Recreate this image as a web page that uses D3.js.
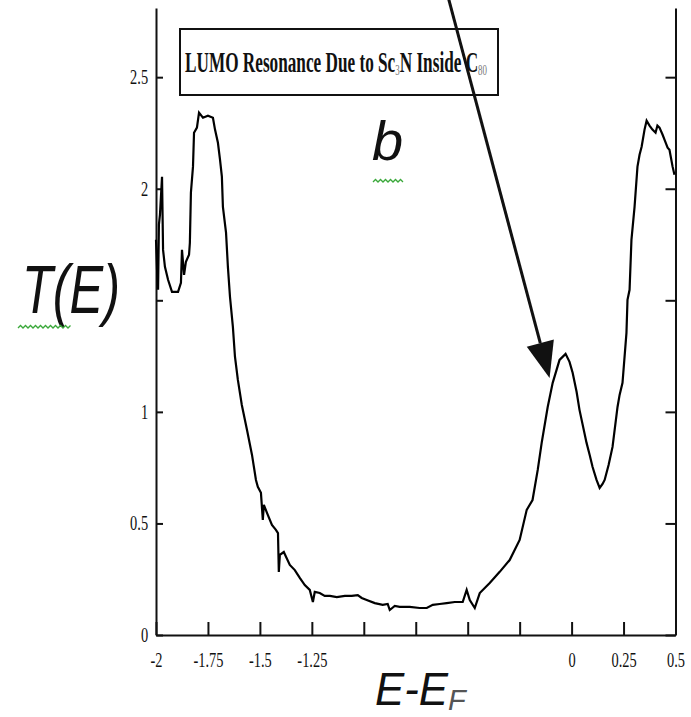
<!DOCTYPE html>
<html>
<head>
<meta charset="utf-8">
<script src="https://cdn.jsdelivr.net/npm/d3@7"></script>
<style>
  body { margin: 0; background: #fff; }
  svg { display: block; }
</style>
</head>
<body>
<svg id="chart" width="691" height="717"></svg>
<script>
// energy (E - E_F) and transmission T(E)
const energy = [
  -2.000, -1.995, -1.990, -1.986, -1.981, -1.971, -1.966, -1.957, -1.942, -1.923,
  -1.894, -1.880, -1.875, -1.865, -1.856, -1.841, -1.837, -1.832, -1.822, -1.817,
  -1.803, -1.793, -1.774, -1.750, -1.726, -1.716, -1.702, -1.692, -1.683, -1.678,
  -1.663, -1.654, -1.644, -1.630, -1.620, -1.606, -1.587, -1.562, -1.538, -1.519,
  -1.510, -1.495, -1.486, -1.481, -1.462, -1.442, -1.423, -1.413, -1.409, -1.404,
  -1.385, -1.356, -1.332, -1.308, -1.284, -1.260, -1.245, -1.236, -1.212, -1.188,
  -1.163, -1.130, -1.091, -1.058, -1.029, -1.010, -0.986, -0.947, -0.909, -0.885,
  -0.875, -0.851, -0.827, -0.779, -0.731, -0.697, -0.668, -0.635, -0.601, -0.562,
  -0.524, -0.505, -0.490, -0.466, -0.442, -0.394, -0.346, -0.298, -0.250, -0.216,
  -0.188, -0.163, -0.144, -0.115, -0.091, -0.058, -0.029, -0.010, 0.005, 0.024,
  0.038, 0.072, 0.087, 0.101, 0.120, 0.135, 0.149, 0.159, 0.178, 0.197,
  0.221, 0.231, 0.245, 0.264, 0.269, 0.279, 0.288, 0.303, 0.317, 0.327,
  0.337, 0.351, 0.361, 0.375, 0.389, 0.404, 0.413, 0.423, 0.438, 0.447,
  0.462, 0.471, 0.486, 0.495
];
const transmission = [
  1.771, 1.637, 1.547, 1.839, 1.883, 2.054, 1.726, 1.650, 1.592, 1.538,
  1.538, 1.578, 1.726, 1.614, 1.673, 1.704, 1.758, 1.982, 2.099, 2.251,
  2.274, 2.341, 2.318, 2.327, 2.318, 2.265, 2.206, 2.130, 2.054, 1.919,
  1.803, 1.650, 1.516, 1.381, 1.247, 1.143, 1.031, 0.919, 0.807, 0.695,
  0.664, 0.637, 0.516, 0.583, 0.538, 0.493, 0.471, 0.457, 0.283, 0.359,
  0.372, 0.314, 0.291, 0.256, 0.224, 0.202, 0.148, 0.193, 0.188, 0.175,
  0.175, 0.170, 0.175, 0.175, 0.179, 0.166, 0.157, 0.143, 0.135, 0.139,
  0.112, 0.130, 0.126, 0.126, 0.121, 0.121, 0.135, 0.139, 0.143, 0.148,
  0.148, 0.202, 0.157, 0.121, 0.188, 0.233, 0.283, 0.336, 0.426, 0.561,
  0.605, 0.740, 0.861, 1.022, 1.130, 1.233, 1.260, 1.224, 1.175, 1.090,
  1.009, 0.861, 0.807, 0.753, 0.695, 0.659, 0.677, 0.695, 0.762, 0.843,
  1.022, 1.076, 1.130, 1.354, 1.502, 1.547, 1.771, 1.919, 2.099, 2.152,
  2.188, 2.265, 2.305, 2.283, 2.265, 2.251, 2.283, 2.274, 2.242, 2.220,
  2.184, 2.175, 2.099, 2.063
];

const xTicks = [-2, -1.75, -1.5, -1.25, -1, -0.75, -0.5, -0.25, 0, 0.25, 0.5];
const xTickLabels = ["-2", "-1.75", "-1.5", "-1.25", "", "", "", "", "0", "0.25", "0.5"];
const yTicks = [0, 0.5, 1, 1.5, 2, 2.5];
const yTickLabels = ["0", "0.5", "1", "", "2", "2.5"];

// arrow annotation, in data units: [E, T] of tail and head
const arrowTail = [-0.591, 2.848];
const arrowHead = [-0.106, 1.152];

const svg = d3.select("#chart");

const x = d3.scaleLinear().domain([-2, 0.5]).range([156, 675.5]);
const y = d3.scaleLinear().domain([0, 2.81]).range([635, 8]);

const points = energy.map((e, i) => [e, transmission[i]]);

// axes
const yAxisL = d3.axisLeft(y)
  .tickValues(yTicks)
  .tickFormat((d, i) => yTickLabels[i])
  .tickSizeInner(-7)
  .tickSizeOuter(0)
  .tickPadding(11);

const yAxisR = d3.axisRight(y)
  .tickValues(yTicks)
  .tickFormat("")
  .tickSizeInner(-10)
  .tickSizeOuter(0);

const xAxis = d3.axisBottom(x)
  .tickValues(xTicks)
  .tickFormat((d, i) => xTickLabels[i])
  .tickSizeInner(-13)
  .tickSizeOuter(0)
  .tickPadding(18);

function styleAxis(g) {
  g.select(".domain").attr("stroke", "#111").attr("stroke-width", 2);
  g.selectAll(".tick line").attr("stroke", "#111").attr("stroke-width", 2);
  g.selectAll(".tick text")
    .attr("fill", "#111")
    .style("font-family", "'Liberation Serif', 'Times New Roman', serif")
    .style("font-size", "20px")
    .attr("transform", "scale(0.72,1)");
}

svg.append("g").attr("transform", `translate(${x.range()[0]},0)`).call(yAxisL).call(styleAxis);
svg.append("g").attr("transform", `translate(${x.range()[1]},0)`).call(yAxisR).call(styleAxis);
svg.append("g").attr("transform", `translate(0,${y(0)})`).call(xAxis).call(styleAxis);

// the curve
const line = d3.line().x(d => x(d[0])).y(d => y(d[1]));
svg.append("path")
  .datum(points)
  .attr("d", line)
  .attr("fill", "none")
  .attr("stroke", "#000")
  .attr("stroke-width", 2.2)
  .attr("stroke-linejoin", "miter");

// legend box
svg.append("rect")
  .attr("x", 180).attr("y", 29)
  .attr("width", 318).attr("height", 66)
  .attr("fill", "#fff")
  .attr("stroke", "#111")
  .attr("stroke-width", 2);

const legendText = svg.append("text")
  .attr("x", 185).attr("y", 72)
  .attr("textLength", 302)
  .attr("lengthAdjust", "spacingAndGlyphs")
  .style("font-family", "'Liberation Serif', 'Times New Roman', serif")
  .style("font-size", "29px")
  .style("font-weight", "bold")
  .attr("fill", "#111");
legendText.append("tspan").text("LUMO Resonance Due to Sc");
legendText.append("tspan").attr("dy", 3).style("font-size", "15px").style("font-weight", "normal").attr("fill", "#777").text("3");
legendText.append("tspan").attr("dy", -3).text("N Inside C");
legendText.append("tspan").attr("dy", 3).style("font-size", "15px").style("font-weight", "normal").attr("fill", "#777").text("80");

// arrow
const ax1 = x(arrowTail[0]), ay1 = y(arrowTail[1]);
const ax2 = x(arrowHead[0]), ay2 = y(arrowHead[1]);
const ang = Math.atan2(ay2 - ay1, ax2 - ax1);
const headLen = 36, headHalf = 14;
const bx = ax2 - headLen * Math.cos(ang), by = ay2 - headLen * Math.sin(ang);
svg.append("line")
  .attr("x1", ax1).attr("y1", ay1)
  .attr("x2", bx).attr("y2", by)
  .attr("stroke", "#111")
  .attr("stroke-width", 3);
svg.append("path")
  .attr("d", `M${ax2},${ay2}L${bx + headHalf * Math.sin(ang)},${by - headHalf * Math.cos(ang)}L${bx - headHalf * Math.sin(ang)},${by + headHalf * Math.cos(ang)}Z`)
  .attr("fill", "#111");

// big italic labels
const sans = "'Liberation Sans', Arial, sans-serif";
svg.append("text")
  .attr("x", 372).attr("y", 160)
  .style("font-family", sans).style("font-style", "italic").style("font-size", "56px")
  .attr("fill", "#111")
  .text("b");

svg.append("text")
  .attr("x", 22).attr("y", 313)
  .attr("textLength", 98)
  .attr("lengthAdjust", "spacingAndGlyphs")
  .style("font-family", sans).style("font-style", "italic").style("font-size", "68px")
  .attr("fill", "#111")
  .text("T(E)");

svg.append("text")
  .attr("x", 375).attr("y", 705)
  .attr("textLength", 73)
  .attr("lengthAdjust", "spacingAndGlyphs")
  .style("font-family", sans).style("font-style", "italic").style("font-size", "46px")
  .attr("fill", "#111")
  .text("E-E");
svg.append("text")
  .attr("x", 448).attr("y", 710)
  .style("font-family", sans).style("font-style", "italic").style("font-size", "29px")
  .attr("fill", "#555")
  .text("F");

// green spell-check squiggles
function squiggle(x0, x1, yy) {
  const p = d3.path();
  p.moveTo(x0, yy);
  let up = true;
  for (let xx = x0 + 2.5; xx <= x1; xx += 2.5) {
    p.lineTo(xx, up ? yy - 2.5 : yy);
    up = !up;
  }
  svg.append("path").attr("d", p.toString())
    .attr("fill", "none").attr("stroke", "#3aa83a").attr("stroke-width", 1.3);
}
squiggle(373, 404, 182);
squiggle(18, 71, 328);
</script>
</body>
</html>
